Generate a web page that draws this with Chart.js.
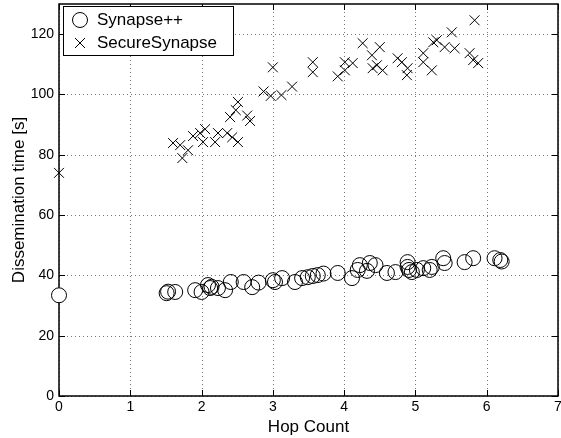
<!DOCTYPE html>
<html>
<head>
<meta charset="utf-8">
<script src="https://cdn.jsdelivr.net/npm/chart.js@4.4.0/dist/chart.umd.min.js"></script>
<style>
  html, body { margin: 0; padding: 0; background: #fff; }
  #wrap { width: 561px; height: 438px; }
</style>
</head>
<body>
<div id="wrap"><canvas id="hopChart" width="561" height="438"></canvas></div>
<script>
// --- data ---
const xTicks = [0, 1, 2, 3, 4, 5, 6, 7];
const yTicks = [0, 20, 40, 60, 80, 100, 120];

const synapseHops = [0, 1.51, 1.53, 1.63, 1.91, 2.0, 2.09, 2.12, 2.14, 2.23, 2.33, 2.41, 2.59, 2.71, 2.80,
    3.0, 3.03, 3.13, 3.31, 3.41, 3.49, 3.56, 3.63, 3.71, 3.91, 4.11, 4.19, 4.22, 4.32, 4.36, 4.44,
    4.60, 4.72, 4.89, 4.89, 4.91, 4.95, 5.02, 5.11, 5.20, 5.23, 5.39, 5.41, 5.69, 5.81, 6.11, 6.19, 6.21];
const synapseTimes = [33.4, 34.1, 34.6, 34.5, 35.1, 34.5, 36.8, 35.8, 36.2, 35.8, 35.1, 37.8, 37.8, 36.1, 37.6,
    38.4, 37.8, 39.1, 37.8, 39.1, 39.4, 39.8, 40.1, 40.6, 40.8, 39.1, 41.8, 43.4, 41.5, 44.1, 43.4,
    40.8, 41.1, 44.4, 42.8, 41.8, 41.1, 41.8, 42.4, 41.8, 42.8, 45.7, 44.1, 44.4, 45.7, 45.7, 45.1, 44.6];

const secureHops = [0, 1.60, 1.70, 1.73, 1.81, 1.88, 1.98, 2.02, 2.05, 2.19, 2.23, 2.36, 2.43, 2.51,
    2.40, 2.48, 2.51, 2.64, 2.68, 2.87, 2.97, 3.0, 3.12, 3.27, 3.56, 3.56, 3.91, 4.01, 4.12, 4.01,
    4.26, 4.39, 4.50, 4.40, 4.46, 4.54, 4.75, 4.81, 4.89, 4.88, 5.11, 5.11, 5.23, 5.25, 5.30, 5.51,
    5.41, 5.55, 5.76, 5.81, 5.88, 5.83];
const secureTimes = [74, 83.9, 83.2, 78.9, 81.5, 86.2, 87.2, 84.2, 88.5, 84.2, 87.2, 87.2, 85.8, 84.2,
    92.5, 94.8, 97.5, 93, 91.2, 101, 99.5, 109, 99.8, 102.6, 110.7, 107.4, 106, 110.7, 110.4, 108,
    117, 113, 115.7, 108.7, 109.7, 108, 112, 110.7, 108.7, 106.4, 113.7, 110.7, 108, 117.3, 118, 120.6,
    115.7, 115.3, 113.7, 111.4, 110.4, 124.6];

const seriesNames = ['Synapse++', 'SecureSynapse'];

function toPoints(xs, ys) {
    return xs.map((x, i) => ({ x: x, y: ys[i] }));
}

const FONT = '"Liberation Sans", Arial, Helvetica, sans-serif';

// dotted grid, frame and inward ticks on all four sides (matlab style)
const framePlugin = {
    id: 'frame',
    beforeDatasetsDraw(chart) {
        const { ctx, chartArea: a, scales } = chart;
        ctx.save();
        // grid
        ctx.strokeStyle = '#777';
        ctx.lineWidth = 1;
        ctx.setLineDash([1, 3]);
        ctx.beginPath();
        xTicks.forEach(v => {
            const px = Math.round(scales.x.getPixelForValue(v)) + 0.5;
            ctx.moveTo(px, a.top); ctx.lineTo(px, a.bottom);
        });
        yTicks.forEach(v => {
            const py = Math.round(scales.y.getPixelForValue(v)) + 0.5;
            ctx.moveTo(a.left, py); ctx.lineTo(a.right, py);
        });
        ctx.stroke();
        ctx.setLineDash([]);
        // ticks
        ctx.strokeStyle = '#000';
        ctx.beginPath();
        const tl = 6;
        xTicks.forEach(v => {
            const px = Math.round(scales.x.getPixelForValue(v)) + 0.5;
            ctx.moveTo(px, a.bottom); ctx.lineTo(px, a.bottom - tl);
            ctx.moveTo(px, a.top); ctx.lineTo(px, a.top + tl);
        });
        yTicks.forEach(v => {
            const py = Math.round(scales.y.getPixelForValue(v)) + 0.5;
            ctx.moveTo(a.left, py); ctx.lineTo(a.left + tl, py);
            ctx.moveTo(a.right, py); ctx.lineTo(a.right - tl, py);
        });
        ctx.stroke();
        ctx.lineWidth = 1.5;
        ctx.strokeRect(a.left, a.top, a.right - a.left, a.bottom - a.top);
        ctx.restore();
    }
};

// boxed legend in the upper left corner of the plot
const legendBoxPlugin = {
    id: 'legendBox',
    afterDraw(chart) {
        const ctx = chart.ctx;
        const bx = 63, by = 6, bw = 170, bh = 49;
        ctx.save();
        ctx.fillStyle = '#fff';
        ctx.fillRect(bx, by, bw, bh);
        ctx.strokeStyle = '#000';
        ctx.lineWidth = 1;
        ctx.strokeRect(bx + 0.5, by + 0.5, bw, bh);
        ctx.font = '17px ' + FONT;
        ctx.fillStyle = '#000';
        ctx.textBaseline = 'middle';
        // circle
        ctx.beginPath();
        ctx.arc(80, 20, 7.5, 0, Math.PI * 2);
        ctx.stroke();
        ctx.fillText(seriesNames[0], 97, 20);
        // cross
        ctx.beginPath();
        ctx.moveTo(75, 38); ctx.lineTo(85, 48);
        ctx.moveTo(85, 38); ctx.lineTo(75, 48);
        ctx.stroke();
        ctx.fillText(seriesNames[1], 97, 43);
        ctx.restore();
    }
};

function noOverhang(s) {
    s.paddingLeft = 0;
    s.paddingRight = 0;
    s.paddingTop = 0;
    s.paddingBottom = 0;
}

const ctx = document.getElementById('hopChart').getContext('2d');
new Chart(ctx, {
    type: 'scatter',
    data: {
        datasets: [{
            label: seriesNames[0],
            data: toPoints(synapseHops, synapseTimes),
            pointStyle: 'circle',
            pointRadius: 7.5,
            pointHoverRadius: 7.5,
            borderColor: '#000',
            borderWidth: 1,
            backgroundColor: c => (c.raw && c.raw.x === 0 ? '#fff' : 'rgba(0,0,0,0)'),
            clip: false
        }, {
            label: seriesNames[1],
            data: toPoints(secureHops, secureTimes),
            pointStyle: 'crossRot',
            pointRadius: 7,
            pointHoverRadius: 7,
            borderColor: '#000',
            borderWidth: 1,
            clip: false
        }]
    },
    options: {
        responsive: false,
        animation: false,
        events: [],
        layout: { autoPadding: false, padding: { left: 0, right: 3, top: 4, bottom: 0 } },
        plugins: {
            legend: { display: false },
            tooltip: { enabled: false }
        },
        scales: {
            x: {
                type: 'linear',
                min: 0,
                max: 7,
                afterBuildTicks: s => { s.ticks = xTicks.map(v => ({ value: v })); },
                afterFit: s => { s.height = 42; noOverhang(s); },
                grid: { display: false, drawTicks: false },
                border: { display: false },
                ticks: { color: '#000', font: { family: FONT, size: 14 }, padding: 3, maxRotation: 0 },
                title: { display: true, text: 'Hop Count', color: '#000', font: { family: FONT, size: 17 }, padding: { top: 0, bottom: 0 } }
            },
            y: {
                type: 'linear',
                min: 0,
                max: 130,
                afterBuildTicks: s => { s.ticks = yTicks.map(v => ({ value: v })); },
                afterFit: s => { s.width = 59; noOverhang(s); },
                grid: { display: false, drawTicks: false },
                border: { display: false },
                ticks: { color: '#000', font: { family: FONT, size: 14 }, padding: 5 },
                title: { display: true, text: 'Dissemination time [s]', color: '#000', font: { family: FONT, size: 17 }, padding: { top: 9, bottom: 0 } }
            }
        }
    },
    plugins: [framePlugin, legendBoxPlugin]
});
</script>
</body>
</html>
